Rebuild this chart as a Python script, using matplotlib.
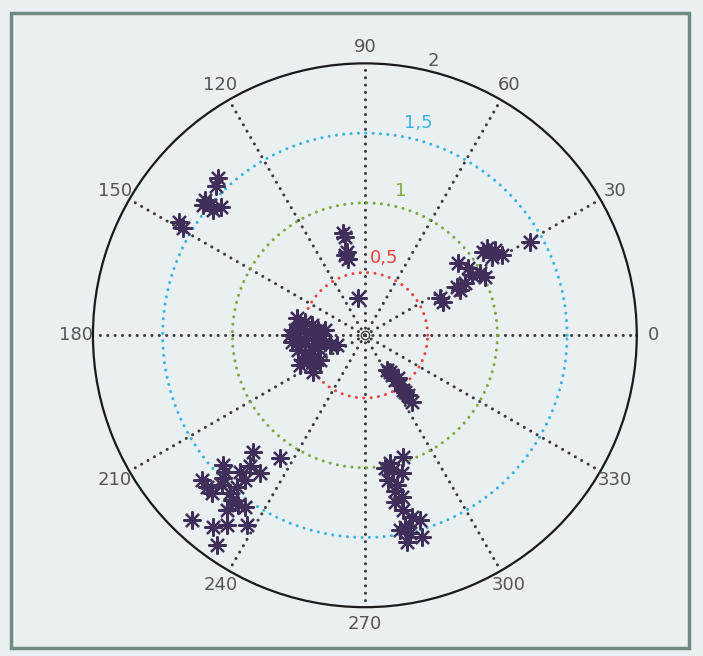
import numpy as np
import matplotlib
matplotlib.use("Agg")
import matplotlib.pyplot as plt

# measured directions (deg) and magnitudes of each sample
theta_deg = [
    # upper-left group
    133.1, 134.8, 139.8, 140.0, 138.2, 140.6, 141.3, 148.6, 149.5,
    # near 100 deg
    102.2, 101.5, 102.2, 104.0, 102.6, 100.7,
    # dense cluster near 180 deg
    175.9, 171.3, 167.8, 169.3, 173.9, 180.0, 189.9, 195.9, 184.4, 183.0,
    185.7, 185.5, 192.6, 195.8, 195.8, 195.5, 202.0, 204.4, 211.0, 209.0,
    215.4, 180.0, 172.9, 199.7, 178.0, 188.0, 166.0, 205.0,
    # upper-right group
    29.4, 35.5, 33.2, 30.3, 31.6, 35.1, 37.7, 28.3, 29.3, 27.5, 27.6,
    25.3, 22.9, 26.3, 25.8, 33.0,
    # streak near 305 deg
    302.2, 304.0, 303.7, 305.0, 304.6, 305.6, 305.0, 304.0, 307.5, 305.0,
    # lower group near 282 deg
    287.3, 281.0, 278.6, 281.7, 285.0, 279.0, 282.0, 281.0, 282.9, 280.2,
    282.3, 284.5, 286.6, 281.8, 282.8, 285.8, 281.5, 280.2,
    # lower-left group
    226.3, 235.4, 222.5, 224.4, 227.6, 228.7, 232.7, 221.6, 223.9, 225.9,
    225.2, 230.4, 229.9, 231.1, 233.2, 235.1, 231.7, 226.9, 231.6, 234.0,
    238.2, 234.8, 229.5, 226.4,
]
radius = [
    1.59, 1.56, 1.55, 1.50, 1.43, 1.46, 1.54, 1.61, 1.56,
    0.80, 0.77, 0.66, 0.64, 0.61, 0.32,
    0.553, 0.52, 0.49, 0.436, 0.389, 0.358, 0.341, 0.311, 0.517, 0.459,
    0.41, 0.575, 0.542, 0.497, 0.445, 0.40, 0.53, 0.483, 0.468, 0.419,
    0.507, 0.588, 0.339, 0.263, 0.47, 0.48, 0.55, 0.56,
    1.41, 1.124, 1.163, 1.187, 1.118, 1.084, 0.893, 0.986, 0.93, 0.858, 0.794,
    0.803, 0.657, 0.65, 1.005, 0.93,
    0.346, 0.396, 0.438, 0.487, 0.53, 0.579, 0.636, 0.37, 0.44, 0.549,
    0.966, 0.985, 1.014, 1.038, 1.074, 1.102, 1.15, 1.19, 1.241, 1.266,
    1.334, 1.398, 1.434, 1.456, 1.505, 1.555, 1.564, 1.47,
    1.211, 1.122, 1.43, 1.454, 1.38, 1.30, 1.293, 1.614, 1.621, 1.626,
    1.494, 1.40, 1.474, 1.569, 1.571, 1.553, 1.648, 1.866, 1.806, 1.733,
    1.654, 1.892, 1.54, 1.535,
]

ring_values = [0.5, 1.0, 1.5]
ring_labels = ["0,5", "1", "1,5"]
ring_colors = ["#e8453c", "#7aab3a", "#37b3e2"]
angle_ticks = list(range(0, 360, 30))
r_max = 2.0

bg = "#eaf0f2"
fig = plt.figure(figsize=(7.03, 6.56), dpi=100, facecolor=bg)

# framed panel border
fig.add_artist(plt.Rectangle((0.015, 0.012), 0.965, 0.968, transform=fig.transFigure,
                             fill=False, edgecolor="#6f8a80", linewidth=2.5))

ax = fig.add_axes([0.132, 0.0744, 0.774, 0.829], projection="polar")
ax.set_facecolor(bg)
ax.set_rlim(0.05, r_max)
ax.grid(False)
ax.set_xticks([])
ax.set_yticks([])
ax.spines["polar"].set_linewidth(1.6)
ax.spines["polar"].set_color("#1a1a1a")

dot = dict(linestyle=(0, (0.01, 2.4)), dash_capstyle="round", linewidth=2.2)
full = np.linspace(0, 2 * np.pi, 400)

# dotted spokes
for a in angle_ticks:
    t = np.deg2rad(a)
    ax.plot([t, t], [0.05, r_max], color="#3a3a3a", **dot)

# dotted magnitude rings with labels
for rv, lab, col in zip(ring_values, ring_labels, ring_colors):
    ax.plot(full, np.full_like(full, rv), color=col, **dot)
    ax.text(np.deg2rad(76), rv + 0.12, lab, color=col, fontsize=13,
            ha="center", va="center")
ax.text(np.deg2rad(76), r_max + 0.08, "2", color="#555555", fontsize=13,
        ha="center", va="center")

# angle labels
for a in angle_ticks:
    ax.text(np.deg2rad(a), r_max + 0.12, str(a), color="#555555", fontsize=13,
            ha="center", va="center")

# small circle at the origin
ax.plot([0], [0.05], marker="o", markersize=6, markerfacecolor="none",
        markeredgecolor="#444444", markeredgewidth=1.0)

ax.plot(np.deg2rad(theta_deg), radius, linestyle="none", marker=(8, 2, 0),
        markersize=13, markeredgewidth=1.6, color="#402f5a")

fig.savefig("out.png", dpi=100, facecolor=bg)
